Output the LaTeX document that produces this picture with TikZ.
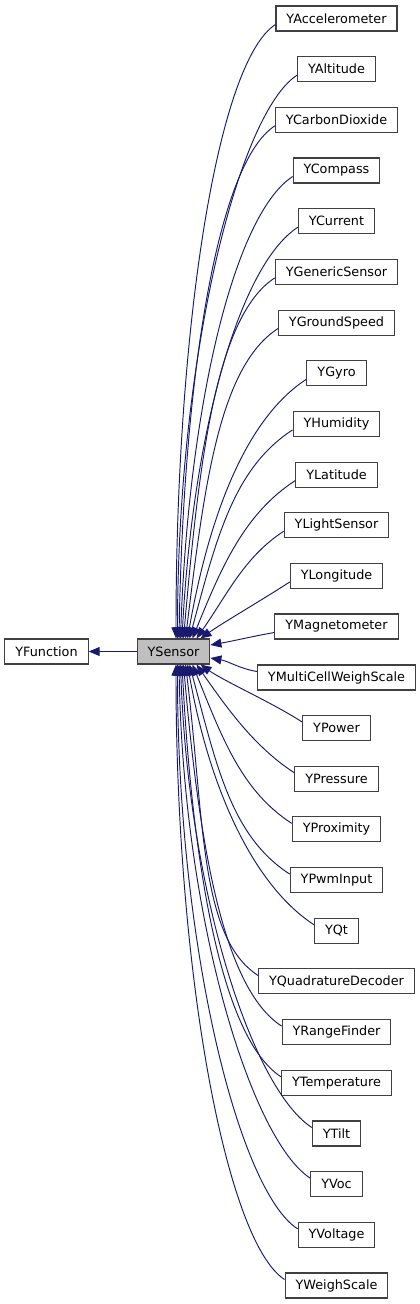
\documentclass[tikz,border=0pt]{standalone}
\usepackage{fontspec}
\setmainfont{DejaVu Sans}
\usetikzlibrary{arrows.meta}
\definecolor{edgeblue}{HTML}{191970}
\definecolor{basegray}{HTML}{BFBFBF}
\tikzset{
  cls/.style={draw=black!75, line width=1.1pt, fill=white, minimum height=25pt,
    inner xsep=10.5pt, inner ysep=0pt, font=\fontsize{12.8}{15}\selectfont},
  inh/.style={draw=edgeblue, line width=0.95pt, -{Triangle[length=11pt,width=9pt]}},
}
\begin{document}
\begin{tikzpicture}[x=1pt,y=1pt]
  \useasboundingbox (0,0) rectangle (420,-1304);
  \node[cls] (YFunction) at (46.5,-651.5) {YFunction};
  \node[cls, fill=basegray] (YSensor) at (173.5,-651.5) {YSensor};
  \draw[inh] (YSensor) -- (YFunction);

  % subclasses above YSensor
  \foreach \nm/\dx/\ina [count=\k from 0] in {YAccelerometer/2.5/90, YAltitude/4/90,
      YCarbonDioxide/5.5/89, YCompass/7/88, YCurrent/8.5/87, YGenericSensor/10/85,
      YGroundSpeed/12/83, YGyro/14/80, YHumidity/16/75, YLatitude/19/68,
      YLightSensor/23/55, YLongitude/27/35}{
    \pgfmathsetmacro\ypos{-18.5-50.68*\k}
    \pgfmathsetmacro\ind{0.5*(639-24.5-50.68*\k)}
    \pgfmathsetmacro\outd{min(70,0.5*\ind+20)}
    \node[cls] (\nm) at (336.5,\ypos) {\nm};
    \draw[inh] ([yshift=-6pt]\nm.west) to[out=213, in=\ina, out distance=\outd pt, in distance=\ind pt] ([xshift=\dx pt]YSensor.north);
  }

  \node[cls] (YMagnetometer) at (336.5,-626.5) {YMagnetometer};
  \node[cls] (YMultiCellWeighScale) at (336.5,-677.5) {YMultiCellWeighScale};
  \draw[inh] ([yshift=-6pt]YMagnetometer.west) to[out=190, in=10] ([yshift=6.5pt]YSensor.east);
  \draw[inh] ([yshift=6pt]YMultiCellWeighScale.west) to[out=170, in=-10] ([yshift=-6.5pt]YSensor.east);

  % subclasses below YSensor
  \foreach \nm/\dx/\ina [count=\k from 14] in {YPower/27/35, YPressure/23/55,
      YProximity/19/68, YPwmInput/16/75, YQt/14/80, YQuadratureDecoder/12/83,
      YRangeFinder/10/85, YTemperature/8.5/87, YTilt/7/88, YVoc/5.5/89,
      YVoltage/4/90, YWeighScale/2.5/90}{
    \pgfmathsetmacro\ypos{-18.5-50.68*\k}
    \pgfmathsetmacro\ind{0.5*(18.5+50.68*\k-6-664)}
    \pgfmathsetmacro\outd{min(70,0.5*\ind+20)}
    \node[cls] (\nm) at (336.5,\ypos) {\nm};
    \draw[inh] ([yshift=6pt]\nm.west) to[out=147, in=-\ina, out distance=\outd pt, in distance=\ind pt] ([xshift=\dx pt]YSensor.south);
  }
\end{tikzpicture}
\end{document}
